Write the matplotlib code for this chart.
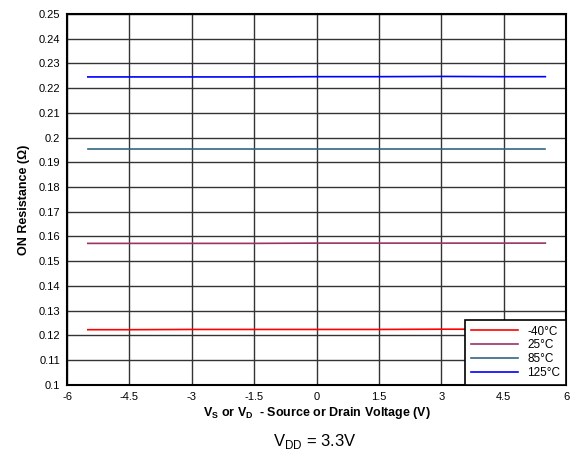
import matplotlib
matplotlib.use("Agg")
import matplotlib.pyplot as plt
import numpy as np

plt.rcParams['font.family'] = ['Liberation Sans', 'DejaVu Sans']
plt.rcParams['mathtext.fontset'] = 'custom'
plt.rcParams['mathtext.rm'] = 'Liberation Sans'
plt.rcParams['mathtext.bf'] = 'Liberation Sans:bold'

vs = [-5.5, -4.5, -3, -1.5, 0, 1.5, 3, 4.5, 5.5]
r_m40 = [0.1223, 0.1223, 0.1224, 0.1224, 0.1224, 0.1224, 0.1225, 0.1225, 0.1225]
r_25 = [0.1572, 0.1572, 0.1572, 0.1572, 0.1573, 0.1573, 0.1573, 0.1573, 0.1573]
r_85 = [0.1953, 0.1953, 0.1953, 0.1953, 0.1953, 0.1953, 0.1953, 0.1953, 0.1953]
r_125 = [0.2245, 0.2245, 0.2245, 0.2245, 0.2246, 0.2246, 0.2247, 0.2246, 0.2246]
labels = ['-40°C', '25°C', '85°C', '125°C']
colors = ['#FF0000', '#993366', '#336680', '#0000FF']

xticks = [-6, -4.5, -3, -1.5, 0, 1.5, 3, 4.5, 6]
xticklabels = ['-6', '-4.5', '-3', '-1.5', '0', '1.5', '3', '4.5', '6']
yticks = np.round(np.arange(0.10, 0.2501, 0.01), 2)

fig = plt.figure(figsize=(5.73, 4.62), dpi=100)
ax = fig.add_axes([0.117, 0.167, 0.871, 0.803])
for y, lab, c in zip([r_m40, r_25, r_85, r_125], labels, colors):
    ax.plot(vs, y, color=c, lw=1.2, label=lab)

ax.set_xlim(-6, 6)
ax.set_ylim(0.1, 0.25)
ax.set_xticks(xticks)
ax.set_xticklabels(xticklabels)
ax.set_yticks(yticks)
ax.set_yticklabels([('%g' % v) for v in yticks])
ax.grid(True, color='#333333', lw=1.0)
ax.set_axisbelow(True)
ax.tick_params(length=0, labelsize=8, pad=5)
for s in ax.spines.values():
    s.set_linewidth(1.5)
    s.set_color('black')

ax.set_xlabel(r'V$\mathbf{_S}$ or V$\mathbf{_D}$  - Source or Drain Voltage (V)',
              fontsize=9, fontweight='bold', labelpad=2)
ax.set_ylabel('ON Resistance (Ω)', fontsize=9, fontweight='bold', labelpad=6)

leg = ax.legend(loc='lower right', fontsize=8.5, frameon=True, fancybox=False,
                edgecolor='black', framealpha=1, borderaxespad=0,
                handlelength=4, borderpad=0.5, labelspacing=0.15)
leg.get_frame().set_linewidth(1.2)

fig.text(0.55, 0.035, r'V$_\mathregular{DD}$ = 3.3V', ha='center', fontsize=12)

fig.savefig('out.png', dpi=100)
